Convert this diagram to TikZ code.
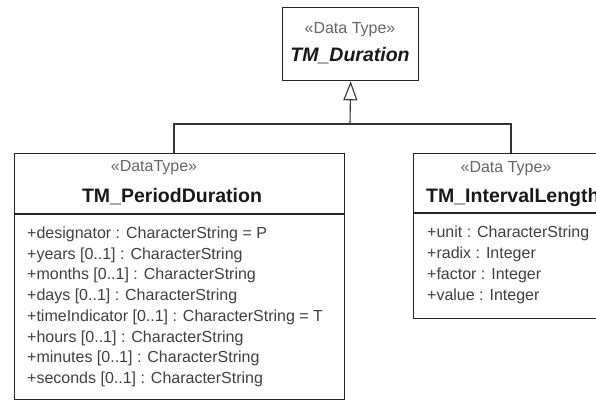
\documentclass[tikz,border=0pt]{standalone}
\usepackage{fontspec}
\setmainfont{Liberation Sans}
\usetikzlibrary{arrows.meta}
\begin{document}
\begin{tikzpicture}[x=1pt,y=-1pt,
  box/.style={draw=black!85, line width=1.3pt, anchor=north west, inner sep=0pt},
  stereo/.style={font=\fontsize{16}{16}\selectfont, text=black!60, inner sep=0pt},
  cname/.style={font=\fontsize{19.5}{20}\selectfont\bfseries, text=black!90, inner sep=0pt},
  cnamei/.style={font=\fontsize{19.5}{20}\selectfont\bfseries\itshape, text=black!90, inner sep=0pt},
  attr/.style={font=\fontsize{16}{16}\selectfont, text=black!75, anchor=base west, inner sep=0pt},
  sep/.style={draw=black!85, line width=1.2pt},
  conn/.style={draw=black!80, line width=1.1pt}]
\useasboundingbox (0,0) rectangle (596,402);
\fill[white] (0,0) rectangle (596,402);
\clip (0,0) rectangle (596,402);

% boxes
\node[box, minimum width=136pt, minimum height=73pt] (dur) at (282,7) {};
\node[box, minimum width=330pt, minimum height=246pt] (pd) at (14,153) {};
\node[box, minimum width=240pt, minimum height=165pt] (il) at (413,153) {};

% separators
\coordinate (pdsep) at (0,214);
\coordinate (ilsep) at (0,213);
\draw[sep] (pd.west |- pdsep) -- (pd.east |- pdsep);
\draw[sep] (il.west |- ilsep) -- (il.east |- ilsep);

% headers
\node[stereo] (durst) at (350,30) {«Data Type»};
\node[cnamei] (durname) at (350,56) {TM\_Duration};
\node[stereo] (pdst) at (154,168) {«DataType»};
\node[cname] (pdname) at (172,197) {TM\_PeriodDuration};
\node[stereo] (ilst) at (506,169) {«Data Type»};
\node[cname, anchor=west] (ilname) at (426,197) {TM\_IntervalLength};

% attributes
\foreach \t [count=\i] in {{+designator : CharacterString = P},
  {+years [0..1] : CharacterString},
  {+months [0..1] : CharacterString},
  {+days [0..1] : CharacterString},
  {+timeIndicator [0..1] : CharacterString = T},
  {+hours [0..1] : CharacterString},
  {+minutes [0..1] : CharacterString},
  {+seconds [0..1] : CharacterString}}
  \node[attr] (pa\i) at (27,{238.5+(\i-1)*20.7}) {\t};

\foreach \t [count=\i] in {{+unit : CharacterString},
  {+radix : Integer},
  {+factor : Integer},
  {+value : Integer}}
  \node[attr] (ia\i) at (427,{237+(\i-1)*21.2}) {\t};

% generalization connector
\coordinate (jm) at (350,124);
\coordinate (jl) at (174,124);
\coordinate (jr) at (511,124);
\draw[conn] (jl |- pd.north) -- (jl) -- (jr) -- (jr |- il.north);
\draw[conn, -{Triangle[open, length=19pt, width=14pt, line width=1.1pt]}] (jm) -- (dur.south);
\end{tikzpicture}
\end{document}
